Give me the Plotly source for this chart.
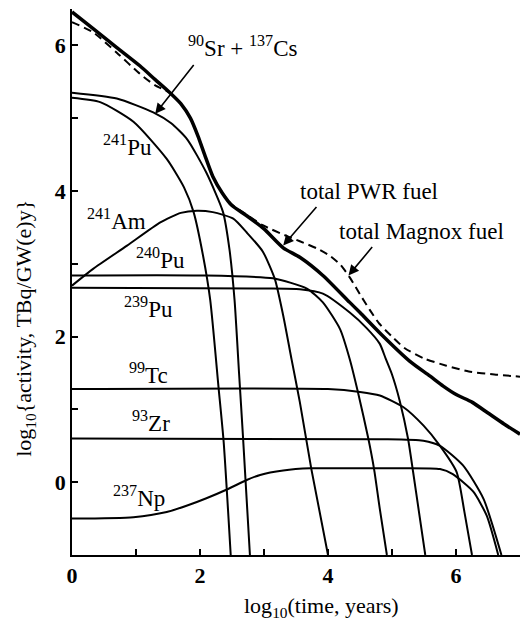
import plotly.graph_objects as go

# ---- data (log10 time, log10 activity) ----
x_pwr = [0, 0.33, 0.7, 1.06, 1.3, 1.53, 1.7, 1.85, 1.97, 2.08, 2.2, 2.35, 2.5, 2.73, 3.0, 3.3, 3.56, 3.92, 4.34, 4.5, 4.81, 5.28, 5.59, 5.8, 6.01, 6.25, 6.5, 6.75, 7.0]
y_pwr = [6.46, 6.23, 5.97, 5.72, 5.53, 5.35, 5.2, 5.0, 4.75, 4.48, 4.2, 3.97, 3.8, 3.66, 3.48, 3.22, 3.09, 2.84, 2.47, 2.33, 2.05, 1.66, 1.46, 1.32, 1.2, 1.1, 0.95, 0.8, 0.66]

x_magnox = [0, 0.33, 0.7, 1.06, 1.3, 1.53, 1.7, 1.85, 1.97, 2.08, 2.2, 2.35, 2.5, 2.65, 2.98, 3.36, 3.56, 3.83, 4.03, 4.2, 4.35, 4.5, 4.65, 4.8, 5.0, 5.2, 5.5, 5.85, 6.2, 6.6, 7.0]
y_magnox = [6.32, 6.18, 5.9, 5.61, 5.45, 5.35, 5.2, 5.0, 4.75, 4.48, 4.2, 3.97, 3.81, 3.72, 3.53, 3.38, 3.31, 3.21, 3.11, 2.98, 2.8, 2.58, 2.37, 2.18, 2.0, 1.84, 1.7, 1.6, 1.52, 1.48, 1.45]

x_srcs = [0, 0.7, 1.27, 1.55, 1.8, 2.1, 2.36, 2.46, 2.54, 2.61, 2.67, 2.78]
y_srcs = [5.35, 5.27, 5.08, 4.93, 4.71, 4.25, 3.71, 3.2, 2.5, 1.5, 0.65, -1.0]

x_pu241 = [0, 0.44, 0.96, 1.48, 1.75, 1.9, 2.05, 2.16, 2.29, 2.37, 2.48]
y_pu241 = [5.28, 5.22, 4.95, 4.44, 4.05, 3.71, 3.1, 2.5, 1.3, 0.55, -1.0]

x_am241 = [0, 0.33, 0.86, 1.38, 1.7, 1.95, 2.2, 2.52, 2.73, 2.98, 3.17, 3.3, 3.43, 3.56, 3.74, 4.0]
y_am241 = [2.70, 2.93, 3.25, 3.57, 3.7, 3.73, 3.71, 3.62, 3.43, 3.17, 2.79, 2.29, 1.69, 1.1, 0.18, -1.0]

x_pu240 = [0, 2.0, 3.14, 3.67, 3.92, 4.19, 4.34, 4.47, 4.63, 4.72, 4.81, 4.92]
y_pu240 = [2.84, 2.84, 2.80, 2.66, 2.47, 2.1, 1.69, 1.23, 0.6, 0.18, -0.37, -1.0]

x_pu239 = [0, 3.0, 3.56, 3.92, 4.34, 4.6, 4.81, 4.9, 5.0, 5.12, 5.25, 5.33, 5.42, 5.52]
y_pu239 = [2.67, 2.66, 2.65, 2.59, 2.33, 2.12, 1.9, 1.7, 1.48, 1.12, 0.6, 0.14, -0.4, -1.0]

x_tc99 = [0, 4.0, 4.5, 4.81, 5.18, 5.49, 5.75, 6.01, 6.13, 6.25]
y_tc99 = [1.28, 1.28, 1.24, 1.19, 1.03, 0.78, 0.5, 0.14, -0.4, -1.0]

x_zr93 = [0, 4.81, 5.49, 5.75, 6.11, 6.43, 6.71]
y_zr93 = [0.6, 0.59, 0.57, 0.5, 0.23, -0.23, -1.0]

x_np237 = [0, 0.96, 1.48, 1.8, 2.1, 2.42, 2.73, 2.94, 3.3, 3.72, 4.81, 5.75, 5.95, 6.27, 6.48, 6.66]
y_np237 = [-0.5, -0.48, -0.41, -0.32, -0.22, -0.1, 0.03, 0.1, 0.16, 0.19, 0.19, 0.18, 0.11, -0.13, -0.46, -1.0]

x_tickvals = [0, 1, 2, 3, 4, 5, 6]
x_ticktext = ["0", "", "2", "", "4", "", "6"]
y_tickvals = [0, 1, 2, 3, 4, 5, 6]
y_ticktext = ["0", "", "2", "", "4", "", "6"]

FONT = "Liberation Serif, Times New Roman, DejaVu Serif, serif"

fig = go.Figure()

def add_line(x, y, width=2.0, dash="solid"):
    fig.add_trace(go.Scatter(x=x, y=y, mode="lines",
                             line=dict(color="black", width=width, dash=dash,
                                       shape="spline", smoothing=0.6),
                             showlegend=False, hoverinfo="skip"))

for xs, ys in [(x_srcs, y_srcs), (x_pu241, y_pu241), (x_am241, y_am241),
               (x_pu240, y_pu240), (x_pu239, y_pu239), (x_tc99, y_tc99),
               (x_zr93, y_zr93), (x_np237, y_np237)]:
    add_line(xs, ys, width=2.0)

add_line(x_magnox, y_magnox, width=2.0, dash="8px,5px")
add_line(x_pwr, y_pwr, width=3.5)

labels = [
    ("<sup>90</sup>Sr + <sup>137</sup>Cs", 2.67, 5.98),
    ("<sup>241</sup>Pu", 0.87, 4.62),
    ("<sup>241</sup>Am", 0.7, 3.61),
    ("<sup>240</sup>Pu", 1.38, 3.07),
    ("<sup>239</sup>Pu", 1.19, 2.4),
    ("<sup>99</sup>Tc", 1.2, 1.49),
    ("<sup>93</sup>Zr", 1.23, 0.83),
    ("<sup>237</sup>Np", 1.05, -0.2),
    ("total PWR fuel", 4.64, 4.0),
    ("total Magnox fuel", 5.46, 3.45),
]
annotations = []
for t, x, y in labels:
    annotations.append(dict(x=x, y=y, xref="x", yref="y", text=t, showarrow=False,
                            font=dict(family=FONT, size=23, color="black"),
                            xanchor="center", yanchor="middle"))

arrows = [((1.3, 5.06), (1.92, 5.75)),
          ((3.3, 3.25), (3.84, 3.8)),
          ((4.32, 2.84), (4.71, 3.25))]
for (hx, hy), (tx, ty) in arrows:
    annotations.append(dict(x=hx, y=hy, ax=tx, ay=ty, xref="x", yref="y",
                            axref="x", ayref="y", text="", showarrow=True,
                            arrowhead=2, arrowsize=1.3, arrowwidth=1.6,
                            arrowcolor="black", standoff=0))

annotations.append(dict(x=0.558, y=-0.095, xref="paper", yref="paper",
                        text="log<sub>10</sub>(time, years)", showarrow=False,
                        font=dict(family=FONT, size=22, color="black"),
                        xanchor="center", yanchor="middle"))
annotations.append(dict(x=-0.105, y=0.416, xref="paper", yref="paper",
                        text="log<sub>10</sub>{activity, TBq/GW(e)y}", showarrow=False,
                        textangle=-90,
                        font=dict(family=FONT, size=22, color="black"),
                        xanchor="center", yanchor="middle"))

axis_common = dict(showgrid=False, zeroline=False, showline=True, linecolor="black",
                   linewidth=1.8, ticks="inside", ticklen=6, tickwidth=1.5,
                   tickcolor="black", mirror=False,
                   tickfont=dict(family=FONT, size=22, color="black", weight="bold"))

fig.update_xaxes(range=[0, 7], tickvals=x_tickvals, ticktext=x_ticktext, **axis_common)
fig.update_yaxes(range=[-1, 6.5], tickvals=y_tickvals, ticktext=y_ticktext, **axis_common)

fig.update_layout(width=520, height=621, margin=dict(l=72, r=0, t=9, b=66),
                  plot_bgcolor="white", paper_bgcolor="white",
                  font=dict(family=FONT),
                  annotations=annotations, showlegend=False)

fig.write_html("out.html")
